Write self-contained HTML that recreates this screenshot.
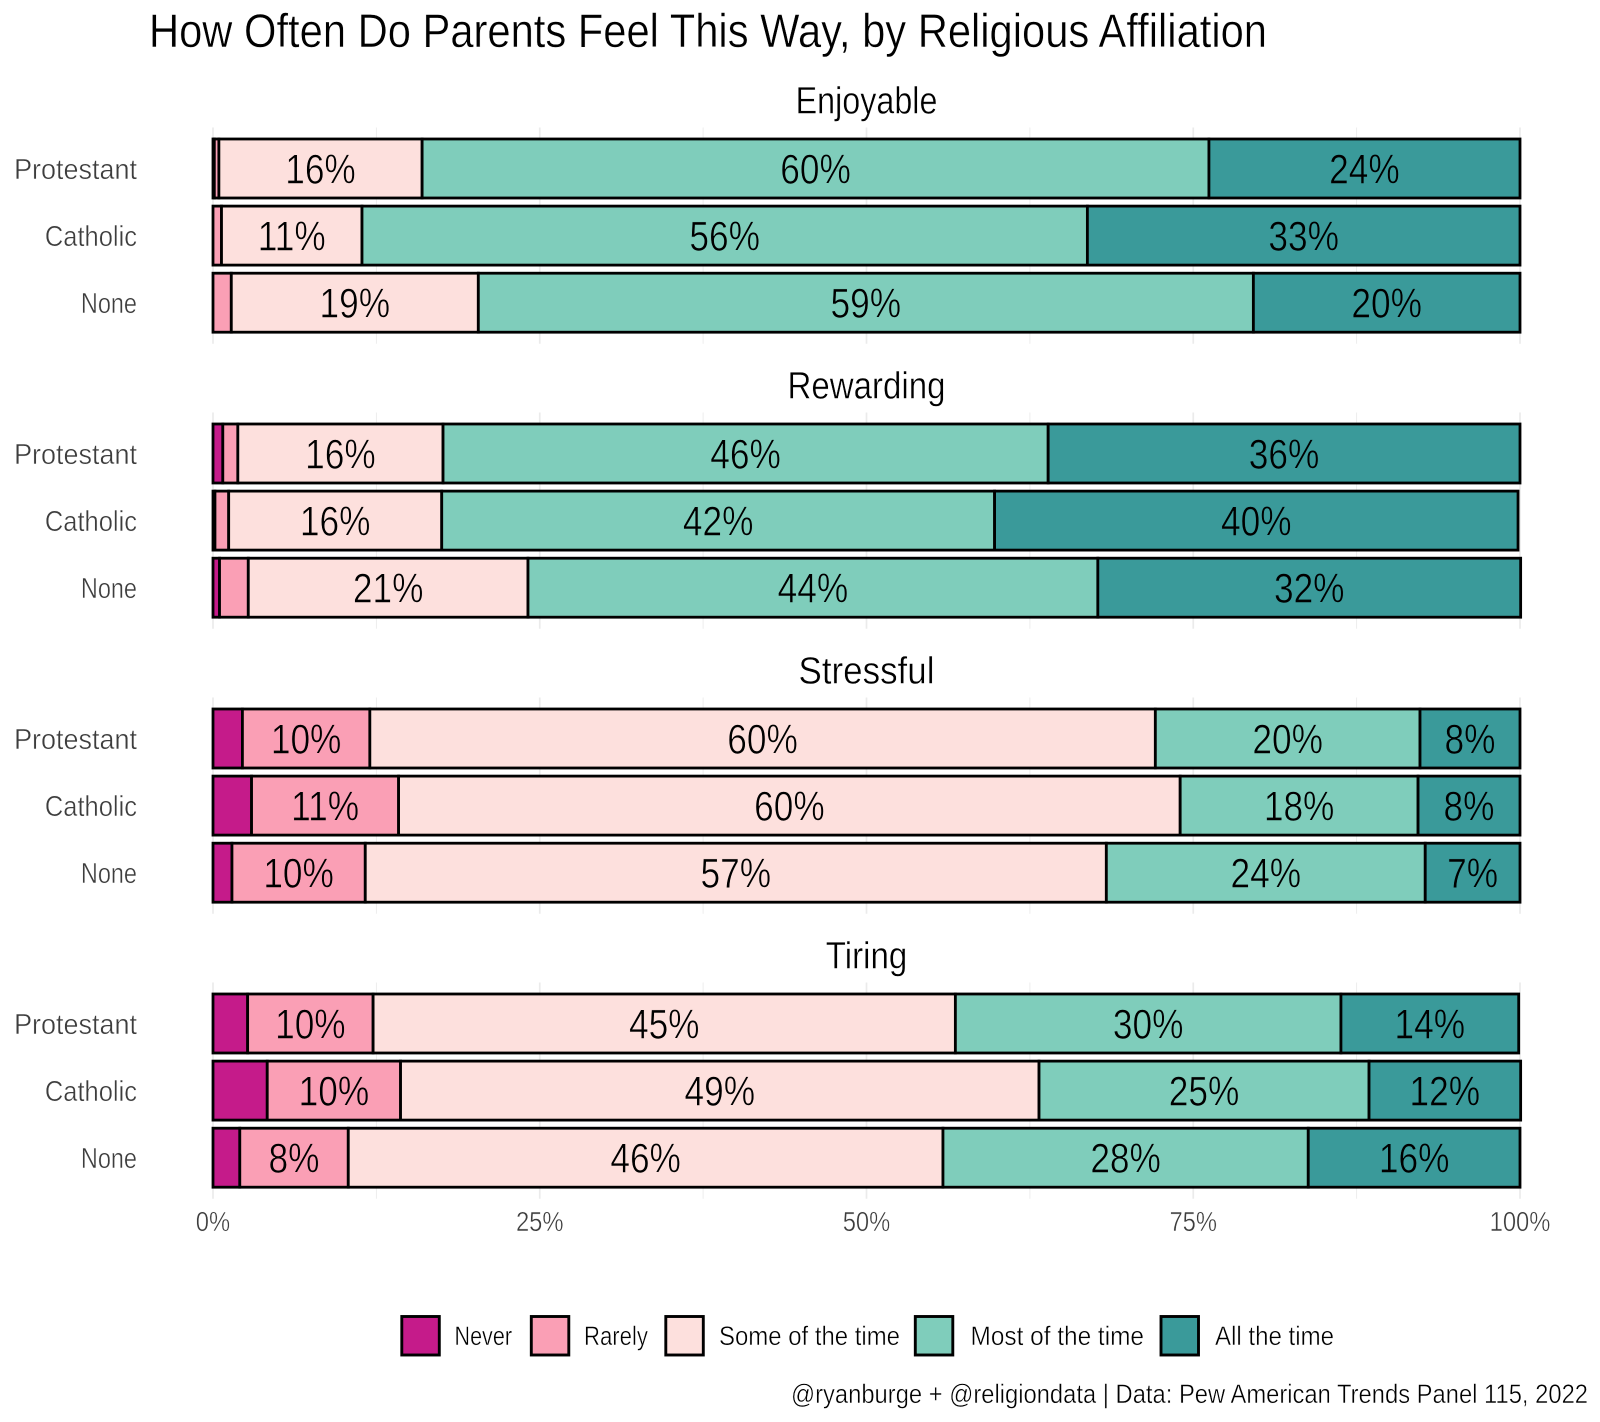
<!DOCTYPE html>
<html lang="en">
<head>
<meta charset="utf-8">
<title>How Often Do Parents Feel This Way, by Religious Affiliation</title>
<style>
html,body{margin:0;padding:0;background:#fff;}
svg{display:block;font-family:"Liberation Sans",sans-serif;}
.thin{stroke:#fff;stroke-width:0.45;paint-order:normal;}
</style>
</head>
<body>
<svg id="chart" xmlns="http://www.w3.org/2000/svg" width="1600" height="1422" viewBox="0 0 1600 1422">
<rect x="0" y="0" width="1600" height="1422" fill="#fff"/>
<g id="grid"></g>
<g id="bars"></g>
<g id="axes"></g>
<text class="thin" x="149" y="47" font-size="47" textLength="1118" lengthAdjust="spacingAndGlyphs" fill="#000">How Often Do Parents Feel This Way, by Religious Affiliation</text>
<g>
<rect x="401.8" y="1316.5" width="37.5" height="38.5" fill="#C51B8A" stroke="#000" stroke-width="2.9"/>
<text class="thin" x="454.5" y="1345" font-size="27" textLength="57.5" lengthAdjust="spacingAndGlyphs">Never</text>
<rect x="531.3" y="1316.5" width="37.5" height="38.5" fill="#FA9FB5" stroke="#000" stroke-width="2.9"/>
<text class="thin" x="584" y="1345" font-size="27" textLength="64" lengthAdjust="spacingAndGlyphs">Rarely</text>
<rect x="665.8" y="1316.5" width="37.5" height="38.5" fill="#FDE0DD" stroke="#000" stroke-width="2.9"/>
<text class="thin" x="719" y="1345" font-size="27" textLength="181" lengthAdjust="spacingAndGlyphs">Some of the time</text>
<rect x="915.3" y="1316.5" width="37.5" height="38.5" fill="#7FCDBB" stroke="#000" stroke-width="2.9"/>
<text class="thin" x="970.5" y="1345" font-size="27" textLength="173.5" lengthAdjust="spacingAndGlyphs">Most of the time</text>
<rect x="1161" y="1316.5" width="37.5" height="38.5" fill="#3A9A9A" stroke="#000" stroke-width="2.9"/>
<text class="thin" x="1215" y="1345" font-size="27" textLength="119" lengthAdjust="spacingAndGlyphs">All the time</text>
</g>
<text class="thin" x="791" y="1403" font-size="27" textLength="797" lengthAdjust="spacingAndGlyphs" fill="#000">@ryanburge + @religiondata | Data: Pew American Trends Panel 115, 2022</text>
</svg>
<script>
const panelTitles = ["Enjoyable", "Rewarding", "Stressful", "Tiring"];
const groups = ["Protestant", "Catholic", "None"];
const responses = ["Never", "Rarely", "Some of the time", "Most of the time", "All the time"];
const majorTicks = [0, 25, 50, 75, 100];
const minorTicks = [12.5, 37.5, 62.5, 87.5];
const tickLabels = ["0%", "25%", "50%", "75%", "100%"];

const enjoyableValues = [
  [0.1, 0.35, 15.55, 60.2, 23.8],
  [0, 0.65, 10.75, 55.5, 33.1],
  [0, 1.4, 18.9, 59.3, 20.4]
];
const rewardingValues = [
  [0.75, 1.15, 15.7, 46.3, 36.1],
  [0.15, 1.05, 16.3, 42.3, 40.05],
  [0.5, 2.2, 21.4, 43.6, 32.35]
];
const stressfulValues = [
  [2.25, 9.75, 60.1, 20.25, 7.65],
  [2.95, 11.25, 59.8, 18.2, 7.8],
  [1.45, 10.2, 56.7, 24.4, 7.25]
];
const tiringValues = [
  [2.65, 9.6, 44.55, 29.5, 13.6],
  [4.15, 10.2, 48.85, 25.25, 11.6],
  [2.05, 8.3, 45.5, 27.95, 16.2]
];
const panelValues = [enjoyableValues, rewardingValues, stressfulValues, tiringValues];

const fills = ["#C51B8A", "#FA9FB5", "#FDE0DD", "#7FCDBB", "#3A9A9A"];
const SVG_NS = "http://www.w3.org/2000/svg";
const LABEL_MIN = 5;
const groupLabelFit = { "Protestant": 0.93, "Catholic": 0.88, "None": 0.81 };
const panelTitleFit = { "Enjoyable": 0.85, "Rewarding": 0.87, "Stressful": 0.92, "Tiring": 0.87 };

function xScale(pct) { return 213 + pct * 13.07; }
function yScale(panel, row) { return 168.5 + panel * 285 + row * 67.1; }

function make(tag, attrs, parent, content) {
  const el = document.createElementNS(SVG_NS, tag);
  for (const k in attrs) el.setAttribute(k, attrs[k]);
  if (content !== undefined) el.textContent = content;
  parent.appendChild(el);
  return el;
}
function slug(s) { return s.toLowerCase().replace(/[^a-z0-9]+/g, "-"); }

const gridLayer = document.getElementById("grid");
const barLayer = document.getElementById("bars");
const axisLayer = document.getElementById("axes");

panelTitles.forEach(function (title, p) {
  const top = yScale(p, 0) - 41;
  const bottom = yScale(p, 2) + 41;

  minorTicks.forEach(function (t) {
    const line = make("line", { x1: xScale(t), x2: xScale(t), y1: top, y2: bottom, stroke: "#ebebeb", "stroke-width": 0.9 }, gridLayer);
    
    
  });
  majorTicks.forEach(function (t) {
    const line = make("line", { x1: xScale(t), x2: xScale(t), y1: top, y2: bottom, stroke: "#ebebeb", "stroke-width": 1.7 }, gridLayer);
    
    
  });

  const strip = make("text", { x: 0, y: 0, "font-size": 38, "text-anchor": "middle", fill: "#000", "class": "thin",
    transform: "translate(" + xScale(50) + "," + (yScale(p, 0) - 55) + ") scale(" + panelTitleFit[title] + ",1)" }, axisLayer, title);
  
  

  groups.forEach(function (group, r) {
    const cy = yScale(p, r);
    const rowValues = panelValues[p][r];

    const yLabel = make("text", { x: 0, y: 0, "font-size": 29, "text-anchor": "end", fill: "#3d3d3d", "class": "thin",
      transform: "translate(137," + (cy + 10.5) + ") scale(" + groupLabelFit[group] + ",1)" }, axisLayer, group);
    
    

    let cum = 0;
    const labels = [];
    rowValues.forEach(function (v, i) {
      const x0 = xScale(cum);
      const x1 = xScale(cum + v);
      if (v > 0) {
        const bar = make("rect", { x: x0, y: cy - 29.5, width: x1 - x0, height: 59,
          fill: fills[i], stroke: "#000", "stroke-width": 2.8 }, barLayer);
        
        
      }
      if (v >= LABEL_MIN) labels.push({ x: (x0 + x1) / 2, v: v, fill: fills[i] });
      cum += v;
    });
    labels.forEach(function (item) {
      const t = make("text", { x: 0, y: 0, "font-size": 42, "text-anchor": "middle", fill: "#000",
        stroke: item.fill, "stroke-width": 0.6,
        transform: "translate(" + item.x + "," + (cy + 14.8) + ") scale(0.84,1)" }, barLayer, Math.round(item.v) + "%");
      
      
    });
  });
});

majorTicks.forEach(function (t, i) {
  const label = make("text", { x: 0, y: 0, "font-size": 28, "text-anchor": "middle", fill: "#3d3d3d", "class": "thin",
    transform: "translate(" + xScale(t) + ",1231) scale(0.85,1)" }, axisLayer, tickLabels[i]);
  
  
});
</script>
</body>
</html>
